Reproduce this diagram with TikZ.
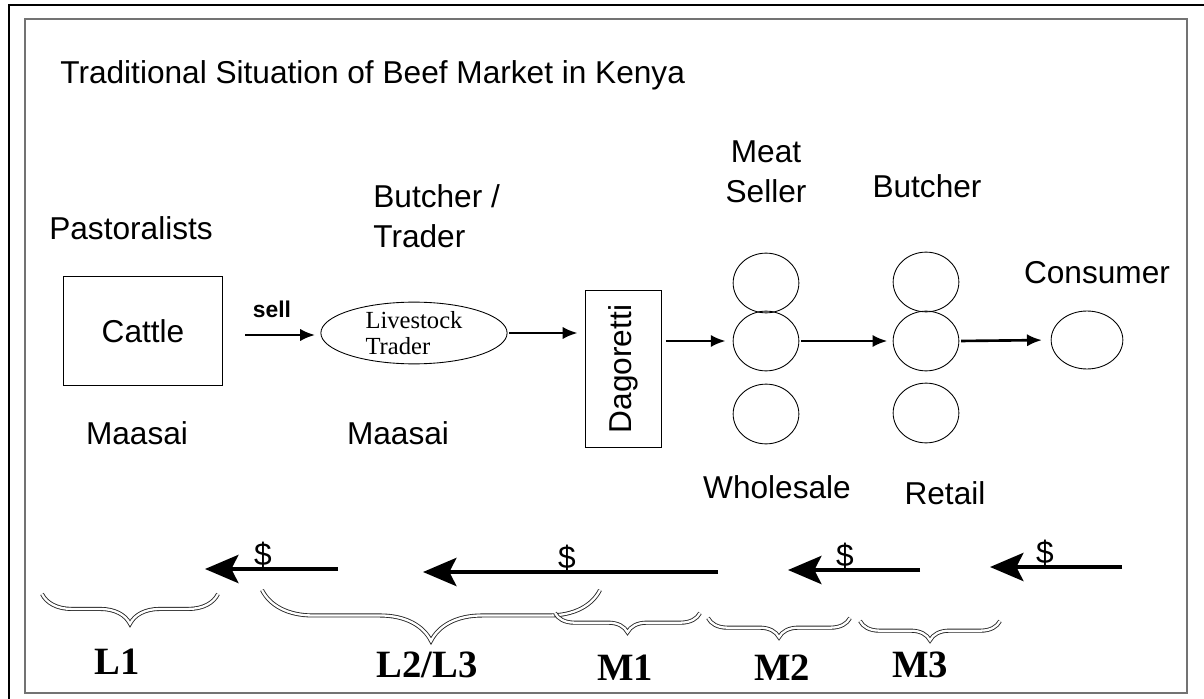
\documentclass[tikz,border=0pt]{standalone}
\usepackage{fontspec}
\setmainfont{Liberation Sans}
\newfontfamily\timesf{Liberation Serif}
\usetikzlibrary{shapes.geometric,arrows.meta,decorations.pathreplacing}
\begin{document}
\begin{tikzpicture}[x=0.02cm, y=-0.02cm,
    lbl/.style={font=\fontsize{18}{23}\selectfont, inner sep=0pt},
    circ/.style={ellipse, draw, line width=0.5pt, minimum width=37.4pt, minimum height=34pt, inner sep=0pt},
    flow/.style={-{Latex[length=8.5pt,width=7pt]}, line width=1.5pt},
    pay/.style={-{Stealth[length=19pt,width=16pt,inset=4pt]}, line width=2.4pt},
    brc/.style={decorate, decoration={brace,mirror,amplitude=#1}, draw=black!85, double=white, double distance=1.3pt, line width=0.5pt},
    lvl/.style={font=\timesf\bfseries\fontsize{22}{24}\selectfont, inner sep=0pt}]
            \useasboundingbox (0,0) rectangle (1204,699);
            \clip (0,0) rectangle (1204,699);
            \draw [line width=1.4pt] (9,5) rectangle (1230,720);
            \draw [black!55, line width=0.8pt] (25,19) rectangle (1187,693);
            \node [lbl, anchor=west] (title) at (60,75) {Traditional Situation of Beef Market in Kenya};
            \node [lbl] (past) at (131,228) {Pastoralists};
            \node [draw, line width=0.5pt, minimum width=90.7pt, minimum height=61.8pt, font=\fontsize{18}{23}\selectfont] (cattle) at (143,331) {Cattle};
            \node [lbl] (maasaiA) at (137,433) {Maasai};
            \node [font=\bfseries\fontsize{13}{15}\selectfont, inner sep=0pt] (sell) at (272,309) {sell};
            \coordinate (sellstart) at (245,335);
            \node [ellipse, draw, line width=0.5pt, minimum width=106pt, minimum height=35pt, inner sep=0pt, align=left, font=\timesf\fontsize{14}{15}\selectfont] (trader) at (414,333) {Livestock\\Trader};
            \node [lbl, align=left, anchor=west] (buttr) at (373,216) {Butcher /\\Trader};
            \node [lbl] (maasaiB) at (398,433) {Maasai};
            \node [draw, line width=0.5pt, minimum width=43.7pt, minimum height=89.6pt, font=\fontsize{18}{23}\selectfont] (dago) at (623.5,369) {\rotatebox{90}{Dagoretti}};
            \node [lbl, align=center] (meat) at (766,172) {Meat\\Seller};
            \node [circ] (ms1) at (766,283) {};
            \node [circ] (ms2) at (766,341) {};
            \node [circ] (ms3) at (766,414) {};
            \node [lbl] (whole) at (777,487) {Wholesale};
            \node [lbl] (butch) at (927,186) {Butcher};
            \node [circ] (bu1) at (926,282) {};
            \node [circ] (bu2) at (926,341) {};
            \node [circ] (bu3) at (926,413) {};
            \node [lbl] (retail) at (945,493) {Retail};
            \node [lbl] (consl) at (1097,273) {Consumer};
            \node [circ, minimum width=40.8pt, minimum height=33pt] (cons) at (1087,340) {};
            \draw [flow, shorten >=3pt] (sellstart) -- (sellstart -| trader.west);
            \draw [flow, shorten <=1pt, shorten >=4pt] (trader.east) -- (trader.east -| dago.west);
            \draw [flow, shorten <=2pt, shorten >=4pt] (dago.east |- ms2) -- (ms2.west);
            \draw [flow, shorten <=1pt, shorten >=3pt] (ms2.east) -- (bu2.west);
            \draw [flow, shorten <=1pt, shorten >=5pt] (bu2.east) -- (cons.west);
            \coordinate (p1a) at (338,569);
            \coordinate (p1b) at (205,569);
            \coordinate (p2a) at (718,572);
            \coordinate (p2b) at (423,572);
            \coordinate (p3a) at (920,570);
            \coordinate (p3b) at (788,570);
            \coordinate (p4a) at (1122,567);
            \coordinate (p4b) at (990,567);
            \draw [pay] (p1a) -- (p1b);
            \draw [pay] (p2a) -- (p2b);
            \draw [pay] (p3a) -- (p3b);
            \draw [pay] (p4a) -- (p4b);
            \node [lbl, anchor=south] (d1) at (263,568) {\$};
            \node [lbl, anchor=south] (d2) at (567,571) {\$};
            \node [lbl, anchor=south] (d3) at (845,569) {\$};
            \node [lbl, anchor=south] (d4) at (1045,566) {\$};
            \coordinate (b1a) at (42,594);
            \coordinate (b1b) at (218,594);
            \coordinate (b2a) at (262,590);
            \coordinate (b2b) at (600,590);
            \coordinate (b3a) at (555,613);
            \coordinate (b3b) at (700,613);
            \coordinate (b4a) at (708,618);
            \coordinate (b4b) at (850,618);
            \coordinate (b5a) at (860,621);
            \coordinate (b5b) at (1000,621);
            \draw [brc=17pt] (b1a) -- (b1b);
            \draw [brc=29pt] (b2a) -- (b2b);
            \draw [brc=11pt] (b3a) -- (b3b);
            \draw [brc=11pt] (b4a) -- (b4b);
            \draw [brc=11pt] (b5a) -- (b5b);
            \node [lvl] (l1) at (117,662) {L1};
            \node [lvl] (l23) at (427,665) {L2/L3};
            \node [lvl] (m1) at (625,668) {M1};
            \node [lvl] (m2) at (782,668) {M2};
            \node [lvl] (m3) at (920,665) {M3};
\end{tikzpicture}
\end{document}
